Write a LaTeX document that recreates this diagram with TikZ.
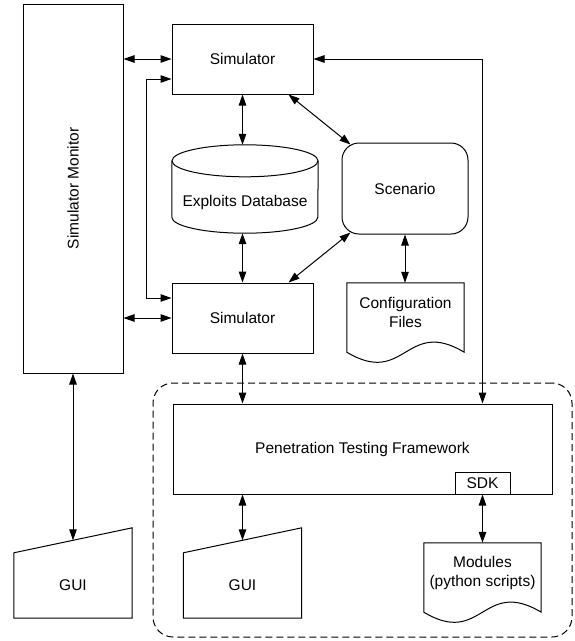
\documentclass[tikz,border=0pt]{standalone}
\usepackage{fontspec}
\setmainfont{Liberation Sans}
\usetikzlibrary{arrows.meta,calc}

\begin{document}
\begin{tikzpicture}
[x=1pt,y=1pt,
every node/.style={font=\fontsize{15.5}{19}\selectfont},
box/.style={shape=rectangle,draw=black,line width=1pt,inner sep=0pt},
plain/.style={shape=rectangle,inner sep=0pt},
scenbox/.style={box,rounded corners=17pt},
docbox/.style={plain,minimum width=117,minimum height=59,align=center},
guibox/.style={plain,minimum width=118,minimum height=65},
outline/.style={line width=1pt},
dedge/.style={<->,>={Triangle[length=11pt,width=7.5pt]},line width=1pt},
group/.style={shape=rectangle,draw=black,line width=1pt,dash pattern=on 7pt off 4pt,rounded corners=20pt}]
\useasboundingbox (0,0) rectangle (575,-641);
%%
\node (pen) [group,minimum width=419,minimum height=254] at (362.5,-510) {};
%%
\node (mon) [box,minimum width=100,minimum height=369] at (73,-188.5) {\rotatebox{90}{Simulator Monitor}};
\node (simA) [box,minimum width=141,minimum height=70] at (242.5,-59) {Simulator};
\node (simB) [box,minimum width=141,minimum height=70] at (242.5,-318) {Simulator};
\node (db) [plain,minimum width=146,minimum height=88,text height=39pt,text depth=4pt] at (245,-189) {Exploits Database};
\draw[outline] ($(db.north west)+(0,-16)$) -- ($(db.south west)+(0,16)$)
  arc[start angle=180,end angle=360,x radius=73pt,y radius=16pt] -- ($(db.north east)+(0,-16)$);
\draw[outline] ($(db.north)+(0,-16)$) ellipse[x radius=73pt,y radius=16pt];
\node (scen) [scenbox,minimum width=126,minimum height=91] at (405,-188.5) {Scenario};
\node (conf) [docbox] at (405.5,-312.5) {Configuration\\Files};
\draw[outline] (conf.north west) -- ($(conf.south west)+(0,-10)$)
  .. controls +(58.5,-35) and +(-58.5,35) .. ($(conf.south east)+(0,-10)$) -- (conf.north east) -- cycle;
%%
\node (ptf) [box,minimum width=379,minimum height=90] at (362.5,-449) {Penetration Testing Framework};
\node (sdk) [box,minimum width=55,minimum height=22] at (482.5,-483) {SDK};
\node (mods) [docbox] at (482.5,-572.5) {Modules\\(python scripts)};
\draw[outline] (mods.north west) -- ($(mods.south west)+(0,-10)$)
  .. controls +(58.5,-35) and +(-58.5,35) .. ($(mods.south east)+(0,-10)$) -- (mods.north east) -- cycle;
\node (guiA) [guibox] at (73,-585.5) {GUI};
\draw[outline] (guiA.north west) -- ($(guiA.north east)+(0,25)$) -- (guiA.south east) -- (guiA.south west) -- cycle;
\node (guiB) [guibox] at (242.5,-585.5) {GUI};
\draw[outline] (guiB.north west) -- ($(guiB.north east)+(0,25)$) -- (guiB.south east) -- (guiB.south west) -- cycle;
%%
\draw[dedge] (simA.west -| mon.east) -- (simA.west);
\draw[dedge] (simB.west -| mon.east) -- (simB.west);
\draw[dedge] ($(simA.west)+(0,-20)$) -- ++(-25,0) |- ($(simB.west)+(0,20)$);
\draw[dedge] (simA.south) -- (simA.south |- db.north);
\draw[dedge] (simB.north |- db.south) -- (simB.north);
\draw[dedge] ($(simA.south east)+(-25,0)$) -- ($(scen.north west)+(9,-2)$);
\draw[dedge] ($(simB.north east)+(-25,0)$) -- ($(scen.south west)+(9,2)$);
\draw[dedge] (scen.south) -- (scen.south |- conf.north);
\draw[dedge] (simA.east) -| (sdk |- ptf.north);
\draw[dedge] (simB.south) -- (simB.south |- ptf.north);
\draw[dedge] (ptf.south -| guiB) -- ($(guiB.north)+(0,12.5)$);
\draw[dedge] (mon.south) -- ($(guiA.north)+(0,12.5)$);
\draw[dedge] (sdk.south) -- (mods.north);
\end{tikzpicture}
\end{document}
